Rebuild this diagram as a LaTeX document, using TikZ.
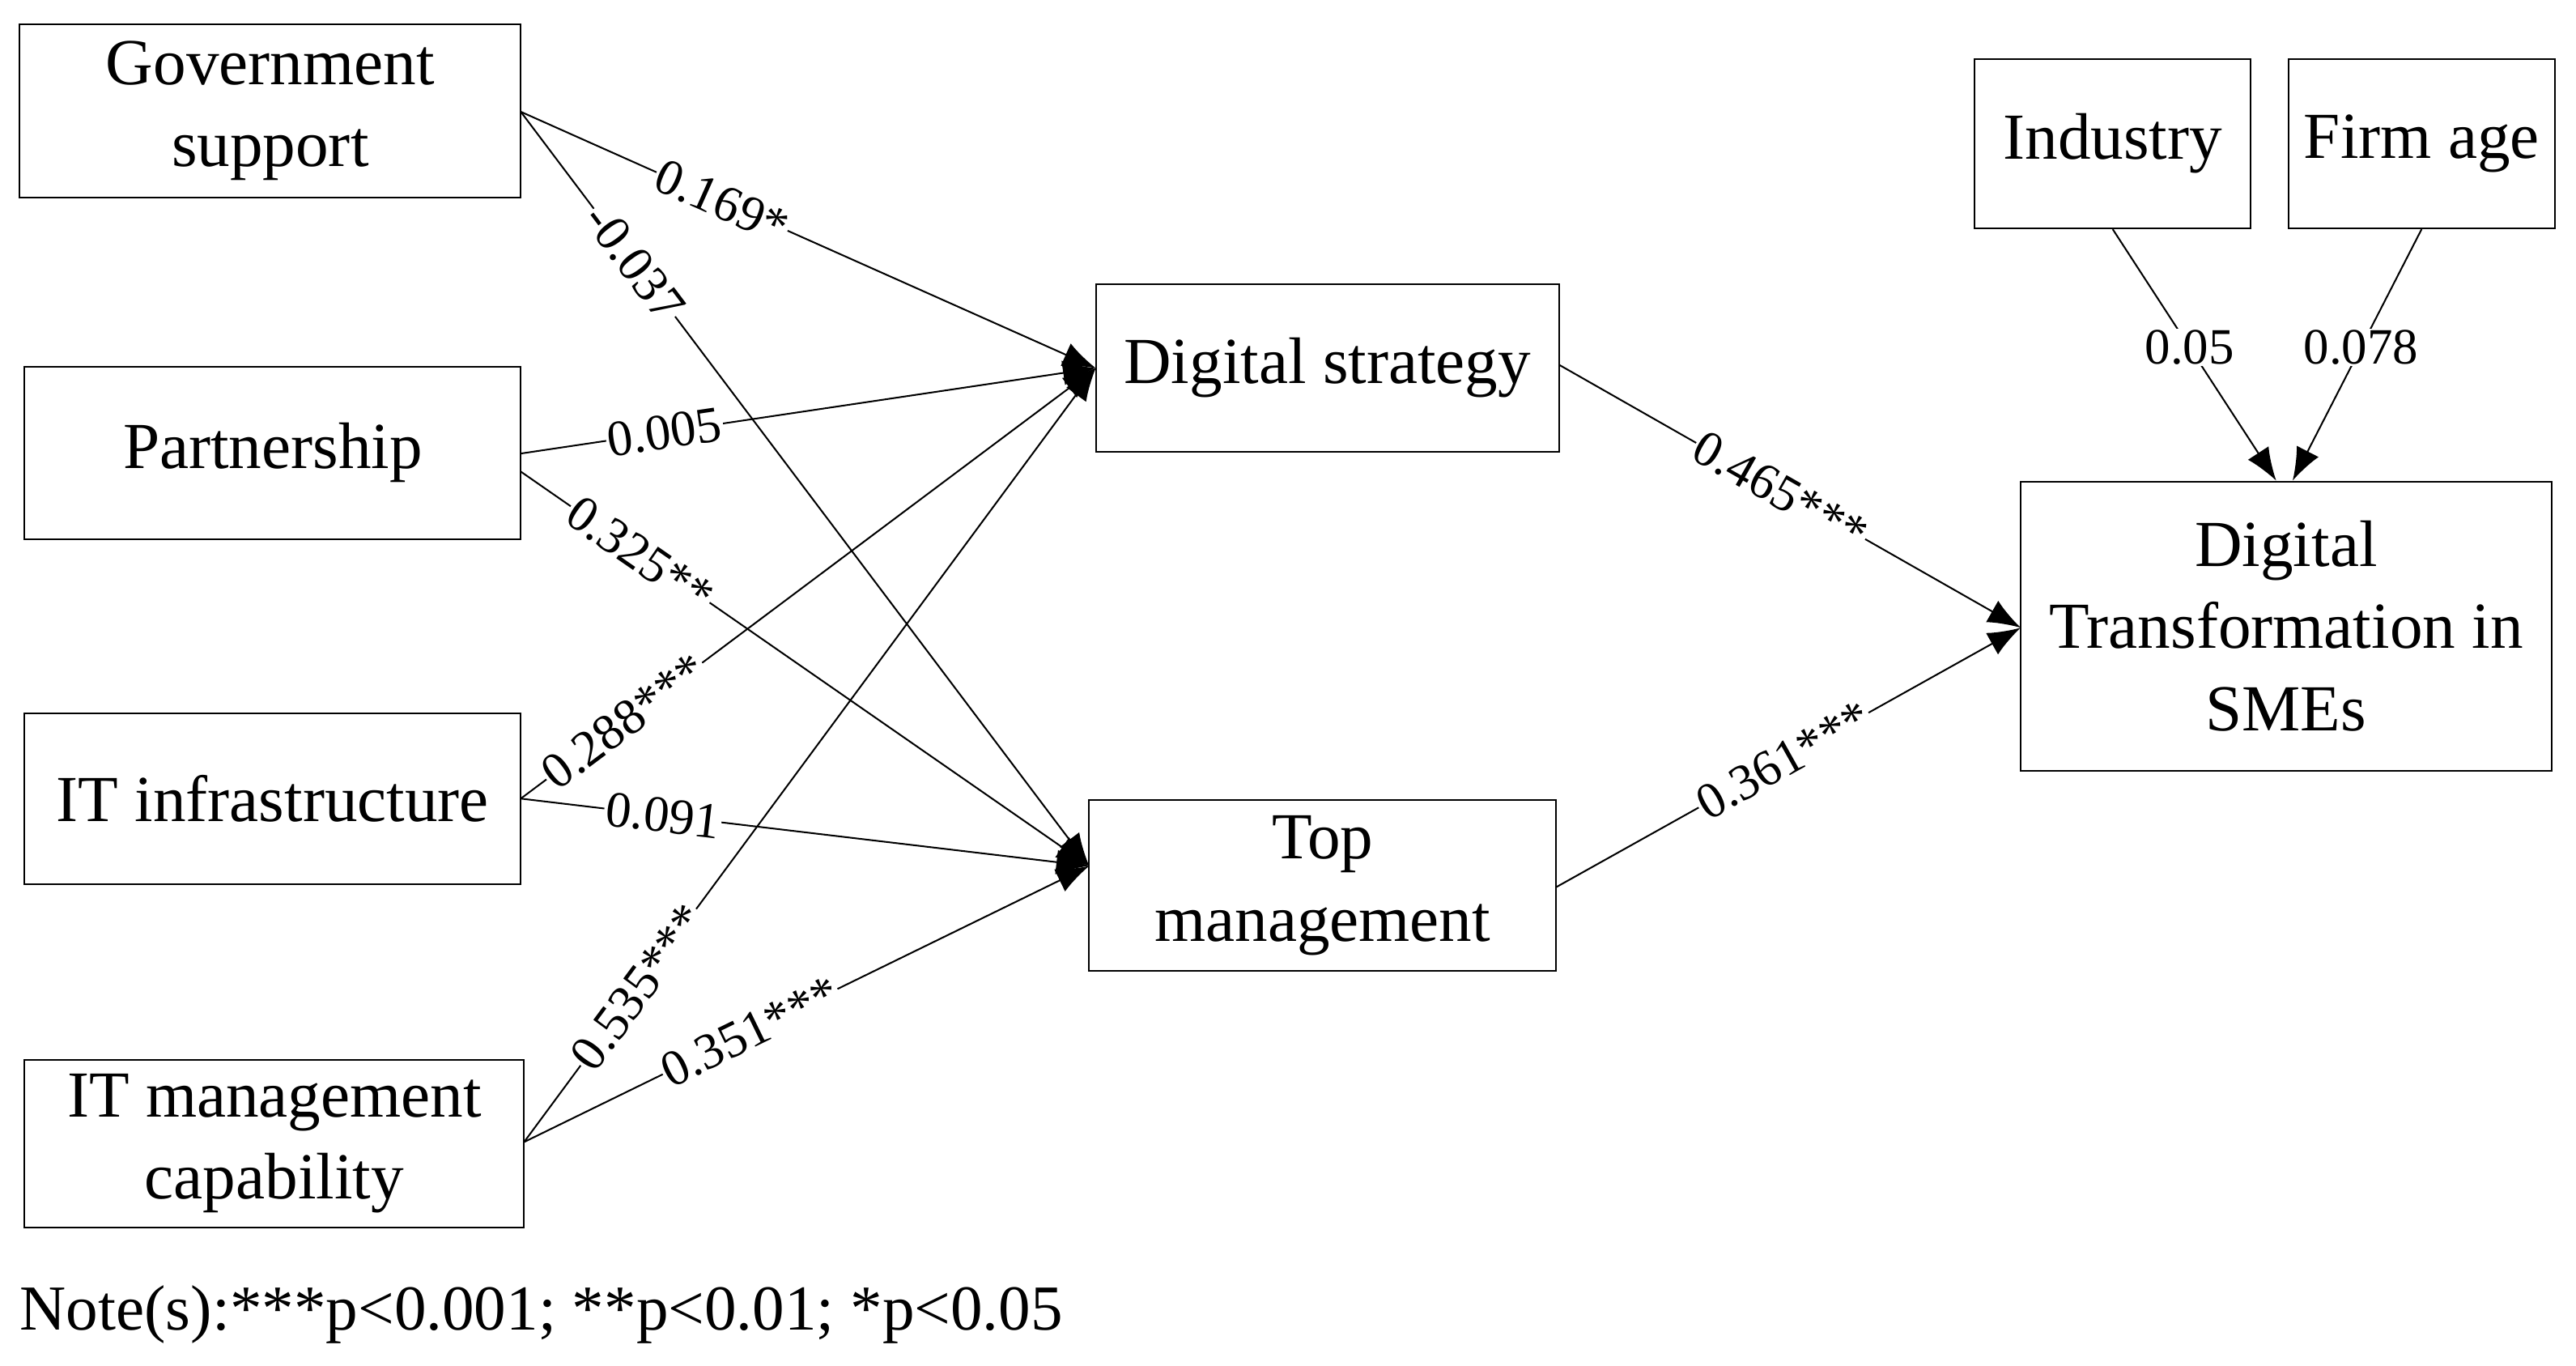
\documentclass[tikz,border=0pt]{standalone}
\usepackage{fontspec}
\setmainfont{Liberation Serif}
\usetikzlibrary{arrows.meta}
\begin{document}
\begin{tikzpicture}[x=1pt,y=-1pt,
 box/.style={draw,line width=1pt,align=center,font=\fontsize{40}{50}\selectfont,inner sep=0pt},
 lab/.style={font=\fontsize{31}{36}\selectfont,fill=white,inner sep=1pt,sloped},
 plab/.style={font=\fontsize{31}{36}\selectfont,fill=white,inner sep=1pt},
 arr/.style={line width=1pt,-{Latex[length=20pt,width=15pt]}}]
\useasboundingbox (0,0) rectangle (1568,831);
\node[box,minimum width=305pt,minimum height=105pt] (gov) at (164.5,67.5) {Government\\support};
\node[box,minimum width=302pt,minimum height=105pt] (par) at (166,275.5) {Partnership};
\node[box,minimum width=302pt,minimum height=104pt] (iti) at (166,486) {IT infrastructure};
\node[box,minimum width=304pt,minimum height=102pt] (itm) at (167,696) {IT management\\capability};
\node[box,minimum width=282pt,minimum height=102pt] (ds) at (808,224) {Digital strategy};
\node[box,minimum width=284pt,minimum height=104pt] (tm) at (805,539) {Top\\management};
\node[box,minimum width=168pt,minimum height=103pt] (ind) at (1286,87.5) {Industry};
\node[box,minimum width=162pt,minimum height=103pt] (age) at (1474,87.5) {Firm age};
\node[box,minimum width=323pt,minimum height=176pt] (dt) at (1391.5,381) {Digital\\Transformation in\\SMEs};
\coordinate (g1) at (317,68);
\coordinate (p1) at (317,276); \coordinate (p2) at (317,287);
\coordinate (i1) at (317,486);
\coordinate (m1) at (319,695);
\coordinate (dsw) at (667,224); \coordinate (tmw) at (663,527);
\coordinate (dse) at (949,222); \coordinate (tme) at (947,540);
\coordinate (dtw) at (1230,382);
\draw[arr] (g1) -- node[lab,pos=0.35]{0.169*} (dsw);
\draw[arr] (g1) -- node[lab,pos=0.2]{-0.037} (tmw);
\draw[arr] (p1) -- node[lab,pos=0.25]{0.005} (dsw);
\draw[arr] (p2) -- node[lab,pos=0.21]{0.325**} (tmw);
\draw[arr] (i1) -- node[lab,pos=0.18]{0.288***} (dsw);
\draw[arr] (i1) -- node[lab,pos=0.25]{0.091} (tmw);
\draw[arr] (m1) -- node[lab,pos=0.2]{0.535***} (dsw);
\draw[arr] (m1) -- node[lab,pos=0.4]{0.351***} (tmw);
\draw[arr] (dse) -- node[lab,pos=0.48]{0.465***} (dtw);
\draw[arr] (tme) -- node[lab,pos=0.49]{0.361***} (dtw);
\draw[arr] (ind.south) -- node[plab,pos=0.47]{0.05} ([xshift=-6pt]dt.north);
\draw[arr] (age.south) -- node[plab,pos=0.47]{0.078} ([xshift=4pt]dt.north);
\node[anchor=west,font=\fontsize{39}{44}\selectfont,inner sep=0pt] (note) at (12,800) {Note(s):***p<0.001; **p<0.01; *p<0.05};
\end{tikzpicture}
\end{document}
